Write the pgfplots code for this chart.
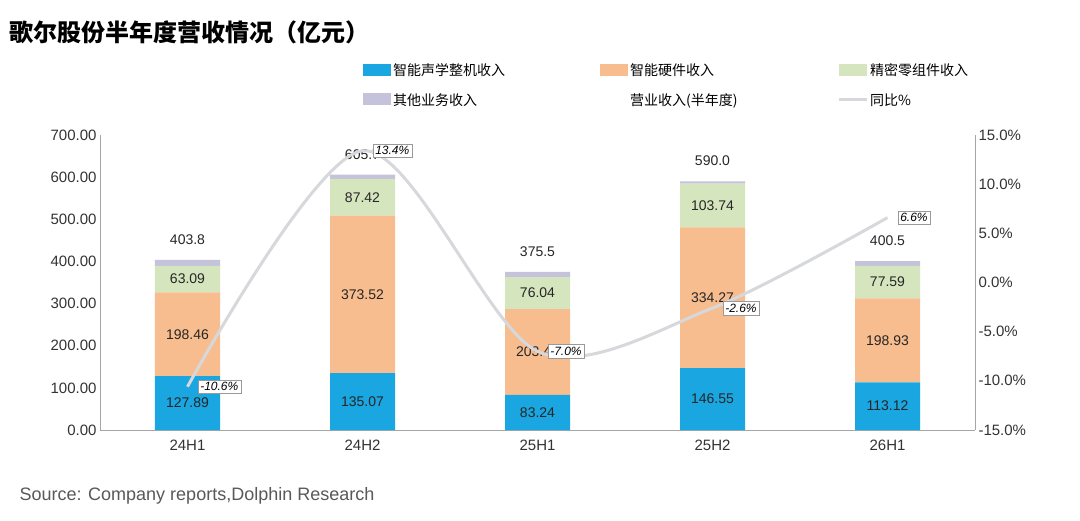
\documentclass[border=0pt]{standalone}
\usepackage{pgfplots}
\pgfplotsset{compat=1.18}
\usepackage{fontspec}
\setmainfont{Liberation Sans}
\newfontfamily\cjk{Noto Sans CJK SC}
\definecolor{cblue}{HTML}{1AA6E0}
\definecolor{corange}{HTML}{F8BD8E}
\definecolor{cgreen}{HTML}{D5E5BE}
\definecolor{cpurple}{HTML}{C5C2DB}
\definecolor{cline}{HTML}{D6D8DC}
\begin{document}
\begin{tikzpicture}[x=1pt,y=1pt]
\useasboundingbox[fill=white] (-100,-90) rectangle (980,430);
\node[anchor=west,font=\cjk\bfseries\fontsize{24}{26}\selectfont] at (-94,398) {歌尔股份半年度营收情况（亿元）};
\node[anchor=west,font=\fontsize{18}{20}\selectfont,text=black!65] at (-84,-66) {Source: Company reports,Dolphin Research};
\begin{axis}[width=875pt,height=295pt,scale only axis,
 ybar stacked, bar width=65pt,
 xmin=-0.5,xmax=4.5,ymin=0,ymax=700,
 xtick={0,1,2,3,4},xticklabels={24H1,24H2,25H1,25H2,26H1},
 ytick={0,100,...,700},
 yticklabel={\pgfmathprintnumber[fixed,fixed zerofill,precision=2]{\tick}},
 /pgf/number format/assume math mode=true,
 tick label style={font=\fontsize{15}{17}\selectfont,text=black!80},
 axis x line*=bottom, axis y line*=left,
 axis line style={black!35}, major tick length=0pt,
 xticklabel style={yshift=-6pt},
 nodes near coords={\pgfmathprintnumber[fixed,fixed zerofill,precision=2]{\pgfplotspointmeta}},
 every node near coord/.style={font=\fontsize{14}{16}\selectfont,text=black!85,anchor=center},
 legend style={at={(0.297,1.255)},anchor=north west,draw=none,fill=none,
   legend columns=3,font=\cjk\fontsize{14}{16}\selectfont,
   nodes={text width=205pt,align=left},row sep=12pt},
 legend image code/.code={\fill[#1] (0pt,-5pt) rectangle (28pt,7pt);},
]
\addplot[fill=cblue,draw=none] coordinates {(0,127.89)(1,135.07)(2,83.24)(3,146.55)(4,113.12)};
\addplot[fill=corange,draw=none] coordinates {(0,198.46)(1,373.52)(2,203.41)(3,334.27)(4,198.93)};
\addplot[fill=cgreen,draw=none] coordinates {(0,63.09)(1,87.42)(2,76.04)(3,103.74)(4,77.59)};
\addplot[fill=cpurple,draw=none,nodes near coords={}] coordinates {(0,14.36)(1,9.69)(2,12.81)(3,5.44)(4,10.86)};
\legend{智能声学整机收入,智能硬件收入,精密零组件收入,其他业务收入}
\addlegendimage{empty legend}\addlegendentry{营业收入(半年度)}
\addlegendimage{legend image code/.code={\draw[cline,line width=3pt](0pt,1pt)--(28pt,1pt);}}\addlegendentry{同比\%}
\end{axis}
\begin{axis}[width=875pt,height=295pt,scale only axis,
 xmin=-0.5,xmax=4.5,ymin=0,ymax=700,axis lines=none,
 /pgf/number format/assume math mode=true,
 nodes near coords={\pgfmathprintnumber[fixed,fixed zerofill,precision=1]{\pgfplotspointmeta}},
 every node near coord/.style={font=\fontsize{14}{16}\selectfont,text=black!85,anchor=south,yshift=12pt}]
\addplot[draw=none,mark=none] coordinates {(0,403.8)(1,605.7)(2,375.5)(3,590.0)(4,400.5)};
\end{axis}
\begin{axis}[width=875pt,height=295pt,scale only axis,
 xmin=-0.5,xmax=4.5,ymin=-15,ymax=15,
 axis x line=none, axis y line*=right, axis line style={black!35},major tick length=0pt,
 ytick={-15,-10,...,15},
 yticklabel={\pgfmathprintnumber[fixed,fixed zerofill,precision=1]{\tick}\%},
 /pgf/number format/assume math mode=true,
 tick label style={font=\fontsize{15}{17}\selectfont,text=black!80},
 nodes near coords={\pgfmathprintnumber[fixed,fixed zerofill,precision=1]{\pgfplotspointmeta}\%},
 every node near coord/.style={font=\itshape\fontsize{12}{14}\selectfont,draw=black!40,line width=0.6pt,text=black,fill=white,inner sep=2.5pt,anchor=west,xshift=10pt},
]
\addplot[cline,line width=3pt,smooth,tension=0.5,mark=none] coordinates {(0,-10.6)(1,13.4)(2,-7.0)(3,-2.6)(4,6.6)};
\end{axis}
\end{tikzpicture}
\end{document}
